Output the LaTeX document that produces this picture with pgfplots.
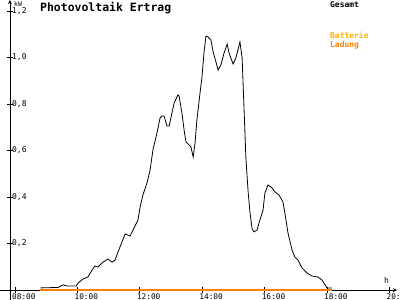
\documentclass[border=0pt]{standalone}
\usepackage{pgfplots}
\pgfplotsset{compat=1.18}
\usepackage{fontspec}
\setmainfont{DejaVu Sans Mono}
\definecolor{lad}{HTML}{FF8000}
\definecolor{bat}{HTML}{FFB000}
\begin{document}
\begin{tikzpicture}
\begin{axis}[
  width=387bp, height=290bp, scale only axis,
  xmin=7.8397, xmax=20.2436, ymin=0, ymax=1.2473,
  axis lines=left, clip=false,
  axis line style={line width=0.8bp, black},
  xtick={8,10,12,14,16,18,20},
  xticklabels={08:00,10:00,12:00,14:00,16:00,18:00,20:00},
  ytick={0.2,0.4,0.6,0.8,1.0,1.2},
  yticklabels={{0,2},{0,4},{0,6},{0,8},{1,0},{1,2}},
  tick align=center, major tick length=6bp,
  tick style={black, line width=0.8bp},
  xticklabel style={anchor=north west, inner sep=0pt, xshift=-3bp, yshift=-0.8bp, font=\fontsize{7.8}{9}\selectfont},
  yticklabel style={anchor=west, inner sep=0pt, xshift=5bp, font=\fontsize{8}{9}\selectfont},
  /pgf/number format/assume math mode=true,
]
\addplot[black, line width=0.8bp] coordinates {
(8.82,0.009) (9.38,0.011) (9.54,0.022) (9.67,0.017) (9.96,0.017) (10.02,0.030)
(10.18,0.047) (10.34,0.056) (10.47,0.086) (10.56,0.103) (10.66,0.099) (10.82,0.120)
(10.98,0.133) (11.11,0.120) (11.21,0.129) (11.30,0.163) (11.53,0.241) (11.69,0.232)
(11.94,0.301) (12.01,0.357) (12.10,0.409) (12.23,0.460) (12.33,0.516) (12.42,0.602)
(12.55,0.675) (12.65,0.740) (12.71,0.748) (12.78,0.748) (12.87,0.705) (12.94,0.705)
(13.03,0.761) (13.10,0.804) (13.19,0.830) (13.22,0.839) (13.26,0.834) (13.35,0.761)
(13.42,0.688) (13.48,0.637) (13.58,0.624) (13.64,0.615) (13.71,0.572) (13.77,0.632)
(13.83,0.731) (13.93,0.847) (13.99,0.912) (14.06,1.024) (14.12,1.092) (14.19,1.088)
(14.28,1.075) (14.35,1.024) (14.44,0.981) (14.51,0.946) (14.60,0.968) (14.70,1.019)
(14.80,1.058) (14.86,1.019) (14.99,0.972) (15.08,0.998) (15.21,1.067) (15.28,0.998)
(15.34,0.783) (15.40,0.568) (15.47,0.426) (15.53,0.335) (15.60,0.262) (15.66,0.250)
(15.76,0.258) (15.82,0.288) (15.95,0.344) (16.01,0.417) (16.11,0.452) (16.24,0.439)
(16.33,0.422) (16.46,0.409) (16.59,0.378) (16.65,0.331) (16.75,0.245) (16.88,0.172)
(16.97,0.142) (17.07,0.129) (17.20,0.095) (17.36,0.073) (17.52,0.060) (17.71,0.056)
(17.84,0.043) (17.94,0.022) (18.00,0.009) (18.16,0.009)
};
\addplot[lad, line width=1.6bp] coordinates {(8.80,0) (18.16,0)};
\draw[black, line width=0.8bp] (axis cs:7.5192,0) -- (axis cs:7.8397,0);
\draw[black, line width=0.8bp] (axis cs:7.8397,0) -- (axis cs:7.8397,-0.0430);
\coordinate (O) at (axis cs:7.5192,1.2473);
\coordinate (BL) at (axis cs:7.5192,-0.0430);
\coordinate (TR) at (axis cs:20.3397,1.2473);
\end{axis}
\begin{scope}[shift={(O)}, x=1bp, y=-1bp]
\node[anchor=base west, inner sep=0pt, font=\bfseries\fontsize{11.5}{12}\selectfont] at (40,12) {Photovoltaik Ertrag};
\node[anchor=base west, inner sep=0pt, font=\fontsize{6.5}{7}\selectfont] at (14,6.5) {kW};
\node[anchor=base west, inner sep=0pt, font=\bfseries\fontsize{8}{9}\selectfont] at (330,8) {Gesamt};
\node[anchor=base west, inner sep=0pt, text=bat, font=\bfseries\fontsize{8}{9}\selectfont] at (330,39) {Batterie};
\node[anchor=base west, inner sep=0pt, text=lad, font=\bfseries\fontsize{8}{9}\selectfont] at (330,48) {Ladung};
\node[anchor=base west, inner sep=0pt, font=\fontsize{8}{9}\selectfont] at (384,283.5) {h};
\end{scope}
\pgfresetboundingbox
\path[use as bounding box] (BL) rectangle (TR);
\end{tikzpicture}
\end{document}
